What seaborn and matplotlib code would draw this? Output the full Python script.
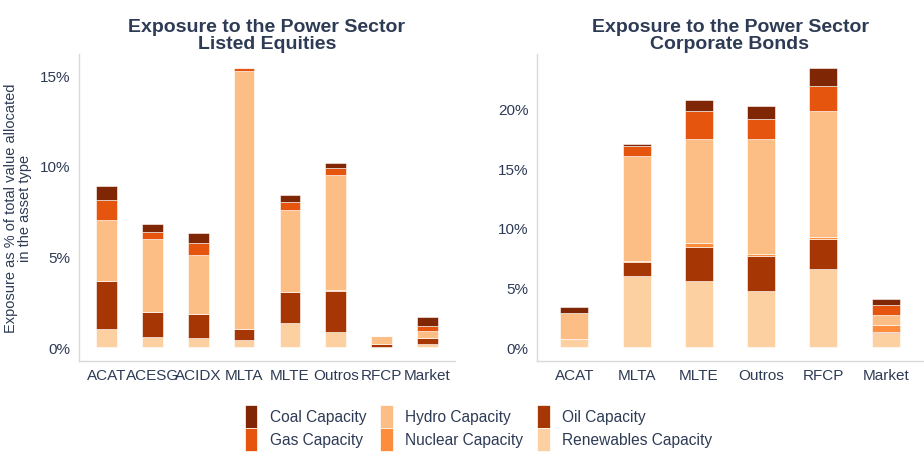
import matplotlib
matplotlib.use("Agg")
import numpy as np
import seaborn as sns
from matplotlib import pyplot as plt
from matplotlib.patches import Patch
from matplotlib.ticker import FuncFormatter

# stacking order, bottom -> top
layers = ["Renewables Capacity", "Oil Capacity", "Nuclear Capacity",
          "Hydro Capacity", "Gas Capacity", "Coal Capacity"]
layer_colors = {
    "Coal Capacity": "#7f2704",
    "Gas Capacity": "#e6550d",
    "Hydro Capacity": "#fdbe85",
    "Nuclear Capacity": "#fd8d3c",
    "Oil Capacity": "#a63603",
    "Renewables Capacity": "#fdd0a2",
}

# listed equities, % of value
eq_funds = ["ACAT", "ACESG", "ACIDX", "MLTA", "MLTE", "Outros", "RFCP", "Market"]
eq_renewables = [1.00, 0.55, 0.49, 0.40, 1.32, 0.82, 0.02, 0.17]
eq_oil = [2.63, 1.39, 1.34, 0.60, 1.72, 2.28, 0.13, 0.31]
eq_nuclear = [0.00, 0.00, 0.00, 0.00, 0.02, 0.05, 0.00, 0.00]
eq_hydro = [3.35, 4.01, 3.22, 14.24, 4.50, 6.34, 0.45, 0.42]
eq_gas = [1.13, 0.42, 0.66, 0.13, 0.44, 0.38, 0.00, 0.28]
eq_coal = [0.77, 0.41, 0.57, 0.02, 0.41, 0.26, 0.00, 0.49]

# corporate bonds, % of value
cb_funds = ["ACAT", "MLTA", "MLTE", "Outros", "RFCP", "Market"]
cb_renewables = [0.67, 5.97, 5.50, 4.71, 6.56, 1.17]
cb_oil = [0.00, 1.14, 2.92, 2.91, 2.53, 0.12]
cb_nuclear = [0.00, 0.14, 0.34, 0.19, 0.12, 0.53]
cb_hydro = [2.18, 8.73, 8.65, 9.62, 10.62, 0.86]
cb_gas = [0.00, 0.84, 2.42, 1.73, 2.04, 0.81]
cb_coal = [0.50, 0.17, 0.90, 1.04, 1.53, 0.50]

eq_data = [eq_renewables, eq_oil, eq_nuclear, eq_hydro, eq_gas, eq_coal]
cb_data = [cb_renewables, cb_oil, cb_nuclear, cb_hydro, cb_gas, cb_coal]

sns.set_theme(style="white")
plt.rcParams['font.family'] = ['Liberation Sans', 'DejaVu Sans']
text_col = "#2e3b55"
axis_col = "#d9d9d9"

fig = plt.figure(figsize=(9.24, 4.56), dpi=100)
ax1 = fig.add_axes([79 / 924, 1 - 362 / 456, 376 / 924, 307 / 456])
ax2 = fig.add_axes([537 / 924, 1 - 362 / 456, 386 / 924, 307 / 456])


def stacked(ax, funds, data, title, ticks):
    bottom = np.zeros(len(funds))
    for name, vals in zip(layers, data):
        sns.barplot(x=funds, y=vals, bottom=bottom, color=layer_colors[name],
                    width=0.45, ax=ax, edgecolor="white", linewidth=0.4,
                    saturation=1)
        bottom = bottom + np.array(vals)
    top = bottom.max()
    ax.set_ylim(-0.05 * top, top * 1.05)
    ax.set_xlim(-0.6, len(funds) - 0.4)
    ax.set_yticks(ticks)
    ax.yaxis.set_major_formatter(FuncFormatter(lambda v, p: f"{v:.0f}%"))
    ax.set_title(title, fontsize=14, fontweight="bold", color=text_col,
                 linespacing=1.05, pad=4)
    for s in ["top", "right"]:
        ax.spines[s].set_visible(False)
    for s in ["left", "bottom"]:
        ax.spines[s].set_color(axis_col)
        ax.spines[s].set_linewidth(1)
    ax.tick_params(axis="both", colors=text_col, labelsize=11, length=3,
                   width=0.8, color="#cccccc")
    ax.tick_params(axis="y", length=0, pad=6)
    ax.tick_params(axis="x", pad=2)
    ax.set_xlabel("")


stacked(ax1, eq_funds, eq_data, "Exposure to the Power Sector\nListed Equities", [0, 5, 10, 15])
stacked(ax2, cb_funds, cb_data, "Exposure to the Power Sector\nCorporate Bonds", [0, 5, 10, 15, 20])
ax1.set_ylabel("Exposure as % of total value allocated\nin the asset type", fontsize=10.5,
               color=text_col, linespacing=1.0, labelpad=6)
ax2.set_ylabel("")

legend_order = ["Coal Capacity", "Gas Capacity", "Hydro Capacity",
                "Nuclear Capacity", "Oil Capacity", "Renewables Capacity"]
handles = [Patch(facecolor=layer_colors[n], edgecolor="white", linewidth=0.5) for n in legend_order]
fig.legend(handles, legend_order, loc="lower center", bbox_to_anchor=(0.518, -0.022),
           ncol=3, frameon=False, fontsize=11.2, labelcolor=text_col,
           handlelength=0.8, handleheight=1.9, handletextpad=0.8,
           columnspacing=0.9, labelspacing=0.0)

fig.savefig("out.png", dpi=100)
